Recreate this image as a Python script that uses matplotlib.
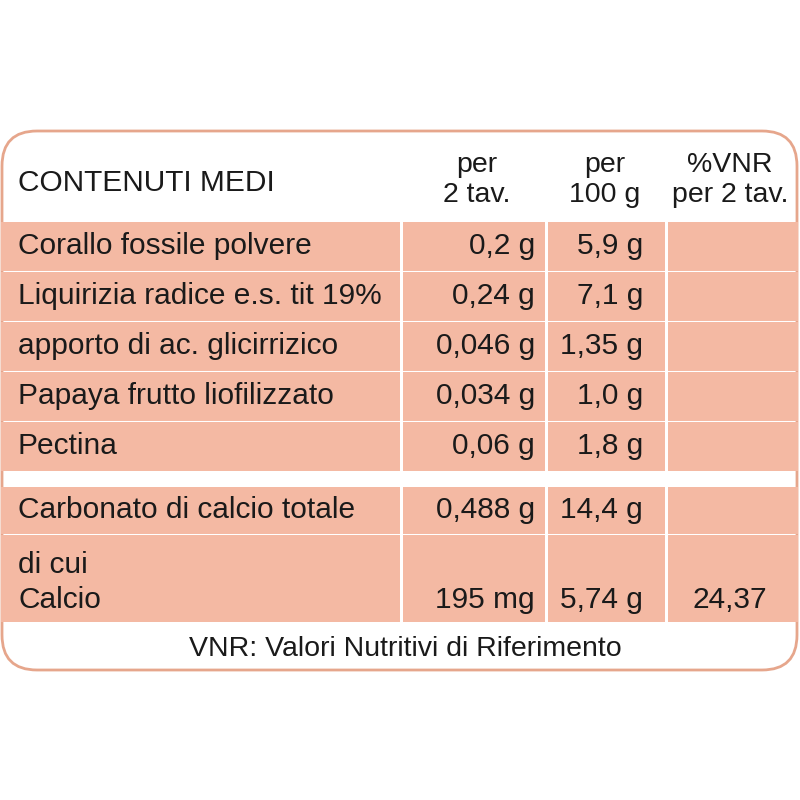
import matplotlib.pyplot as plt
from matplotlib.patches import FancyBboxPatch, Rectangle

labels = ["Corallo fossile polvere", "Liquirizia radice e.s. tit 19%",
          "apporto di ac. glicirrizico", "Papaya frutto liofilizzato", "Pectina",
          "Carbonato di calcio totale", "di cui\nCalcio"]
per_2_tav = ["0,2 g", "0,24 g", "0,046 g", "0,034 g", "0,06 g", "0,488 g", "195 mg"]
per_100g = ["5,9 g", "7,1 g", "1,35 g", "1,0 g", "1,8 g", "14,4 g", "5,74 g"]
vnr = ["", "", "", "", "", "", "24,37"]
headers = ["CONTENUTI MEDI", "per\n2 tav.", "per\n100 g", "%VNR\nper 2 tav."]
footer = "VNR: Valori Nutritivi di Riferimento"

# row bounds (pixels from top)
row_tops = [222, 272, 322, 372, 422, 487, 535]
row_bots = [271, 321, 371, 421, 471, 534, 622]
col_left = [0, 402, 547, 667]
col_right = [400, 545, 665, 798]

FILL = "#f4b9a3"
EDGE = "#e6a68c"
plt.rcParams["font.family"] = ["Liberation Sans", "DejaVu Sans"]

fig = plt.figure(figsize=(8, 8), dpi=100)
ax = fig.add_axes([0, 0, 1, 1])
ax.set_xlim(0, 800)
ax.set_ylim(800, 0)
ax.axis("off")

# outer rounded frame
ax.add_patch(FancyBboxPatch((2, 131), 795, 539, boxstyle="round,pad=0,rounding_size=35",
                            facecolor="white", edgecolor=EDGE, linewidth=2, zorder=1))

for i, (t, b) in enumerate(zip(row_tops, row_bots)):
    for l, r in zip(col_left, col_right):
        ax.add_patch(Rectangle((l + 1, t), r - l - 1, b - t, facecolor=FILL,
                               edgecolor="none", zorder=2))

fs = 21.5
tc = "#1a1a1a"
ax.text(18, 183, headers[0], fontsize=fs, va="center", ha="left", color=tc)
for x, h in zip([477, 605, 730], headers[1:]):
    ax.text(x, 180, h, fontsize=fs - 1, va="center", ha="center", color=tc, linespacing=1.15)

for i, (t, b) in enumerate(zip(row_tops, row_bots)):
    if "\n" in labels[i]:
        ax.text(18, b - 22, labels[i].split("\n")[1], fontsize=fs, va="center", color=tc)
        ax.text(18, t + 30, labels[i].split("\n")[0], fontsize=fs, va="center", color=tc)
        y = b - 22
    else:
        y = (t + b) / 2
        ax.text(18, y, labels[i], fontsize=fs, va="center", color=tc)
    ax.text(535, y, per_2_tav[i], fontsize=fs, va="center", ha="right", color=tc)
    ax.text(643, y, per_100g[i], fontsize=fs, va="center", ha="right", color=tc)
    ax.text(730, y, vnr[i], fontsize=fs, va="center", ha="center", color=tc)

ax.text(405, 649, footer, fontsize=fs - 1, va="center", ha="center", color=tc)

fig.savefig("out.png", dpi=100)
